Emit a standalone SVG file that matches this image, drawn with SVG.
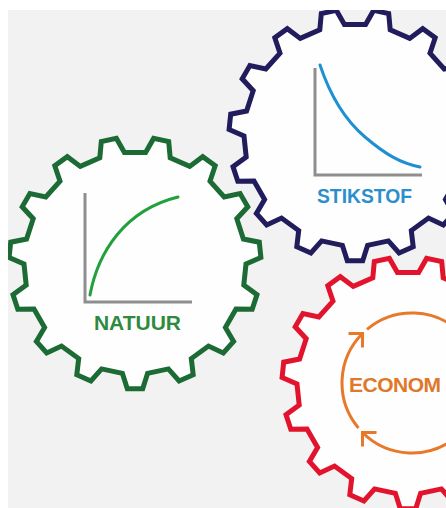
<svg xmlns="http://www.w3.org/2000/svg" xmlns:xlink="http://www.w3.org/1999/xlink" width="446" height="508" viewBox="0 0 446 508">
<style>
.gear{fill:#fefefe;stroke-width:5;stroke-linejoin:miter}
.axis{fill:none;stroke:#8e8e8e;stroke-width:3}
.curve{fill:none;stroke-width:3;stroke-linecap:round}
.lbl{font-family:"Liberation Sans",Arial,sans-serif;font-weight:bold}
.eco{fill:none;stroke:#e8782a;stroke-width:3}
</style>
<defs>
<clipPath id="frame"><rect x="8" y="10" width="438" height="498"/></clipPath>
<polygon id="gear" points="10.6,-110.5 18.6,-124.6 33.7,-121.4 35.2,-105.3 54.7,-96.6 67.7,-106.3 80.2,-97.2 75.0,-81.8 89.2,-66.0 105.1,-69.5 112.8,-56.2 101.8,-44.3 108.4,-24.0 124.3,-20.8 125.9,-5.5 111.0,1.0 108.8,22.1 122.0,31.6 117.2,46.2 101.0,46.0 90.4,64.5 98.6,78.4 88.3,89.9 73.5,83.1 56.3,95.6 58.2,111.8 44.1,118.0 33.4,105.9 12.6,110.3 7.7,125.8 -7.7,125.8 -12.6,110.3 -33.4,105.9 -44.1,118.0 -58.2,111.8 -56.3,95.6 -73.5,83.1 -88.3,89.9 -98.6,78.4 -90.4,64.5 -101.0,46.0 -117.2,46.2 -122.0,31.6 -108.8,22.1 -111.0,1.0 -125.9,-5.5 -124.3,-20.8 -108.4,-24.0 -101.8,-44.3 -112.8,-56.2 -105.1,-69.5 -89.2,-66.0 -75.0,-81.8 -80.2,-97.2 -67.7,-106.3 -54.7,-96.6 -35.2,-105.3 -33.7,-121.4 -18.6,-124.6 -10.6,-110.5"/>
</defs>
<rect x="0" y="0" width="446" height="508" fill="#ffffff"/>
<rect x="8" y="10" width="438" height="498" fill="#f2f2f2"/>
<g id="natuur">
<g clip-path="url(#frame)"><use href="#gear" xlink:href="#gear" class="gear" stroke="#1d6b34" transform="translate(135,263)"/></g>
<path class="axis" d="M85,193 V302 H192"/>
<path class="curve" stroke="#22a03c" d="M90,295 C98,252 125,210 178,197"/>
<text class="lbl" x="137.5" y="330" font-size="21" fill="#2e8b3e" text-anchor="middle">NATUUR</text>
</g>
<g id="stikstof">
<g clip-path="url(#frame)"><use href="#gear" xlink:href="#gear" class="gear" stroke="#211c5c" transform="translate(355,135)"/></g>
<path class="axis" d="M315,68 V175 H422"/>
<path class="curve" stroke="#1e90d2" d="M320,65 C330,95 345,120 365,137 C385,154 400,163 420,167"/>
<text class="lbl" x="364.5" y="203" font-size="20" fill="#2b8fcb" text-anchor="middle" textLength="95" lengthAdjust="spacingAndGlyphs">STIKSTOF</text>
</g>
<g id="economie">
<g clip-path="url(#frame)">
<use href="#gear" xlink:href="#gear" class="gear" stroke="#e2142d" transform="translate(408,383)"/>
<path class="eco" d="M358.4,428 A70,70 0 0 1 362.5,333.5 M367,329.4 A70,70 0 0 1 461.5,333.5 M465.6,338 A70,70 0 0 1 461.5,432.5 M457,436.6 A70,70 0 0 1 362.5,432.5"/>
<path class="eco" d="M348.5,333.5 H362.5 V347.5 M376.5,432.5 H362.5 V446.5 M447.5,333.5 H461.5 V319.5 M475.5,432.5 H461.5 V418.5"/>
</g>
<text class="lbl" x="349" y="392" font-size="21" letter-spacing="-0.5" fill="#e0782a">ECONOM</text>
</g>
</svg>
